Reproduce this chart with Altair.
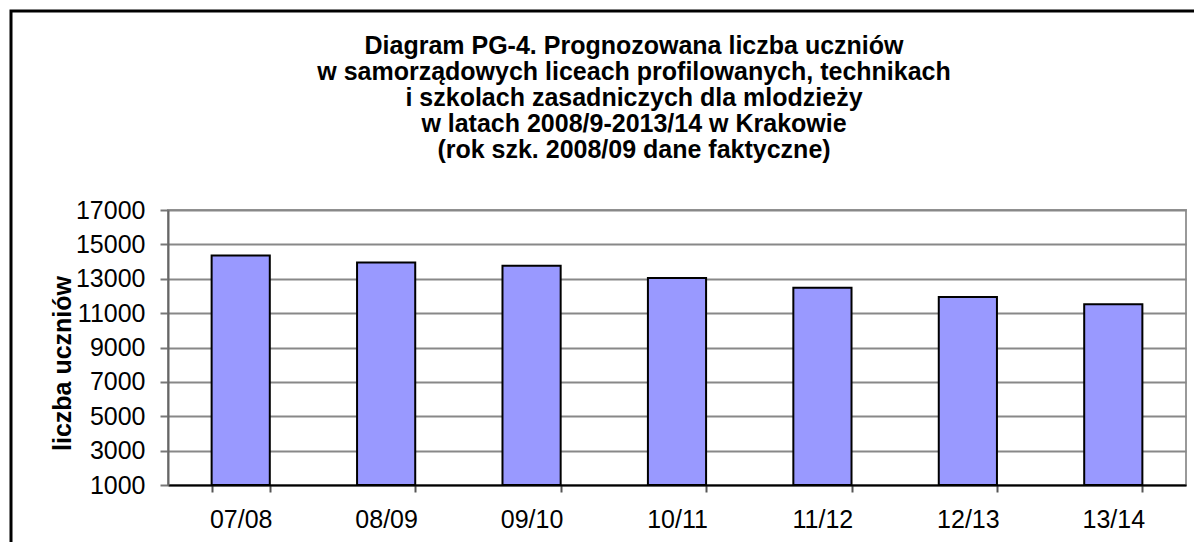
import altair as alt
import pandas as pd

# --- data ---
years = ["07/08", "08/09", "09/10", "10/11", "11/12", "12/13", "13/14"]
students = [14350, 13950, 13750, 13050, 12470, 11940, 11510]
y_ticks = [1000, 3000, 5000, 7000, 9000, 11000, 13000, 15000, 17000]
title_lines = [
    "Diagram PG-4. Prognozowana liczba uczniów",
    "w samorządowych liceach profilowanych, technikach",
    "i szkolach zasadniczych dla mlodzieży",
    "w latach 2008/9-2013/14 w Krakowie",
    "(rok szk. 2008/09  dane faktyczne)",
]
y_title = "liczba uczniów"

df = pd.DataFrame({"rok": years, "uczniowie": students})

FONT = "Liberation Sans"
W, H = 1018, 275

bars = alt.Chart(df).mark_bar(
    color="#9999ff", stroke="black", strokeWidth=2
).encode(
    x=alt.X(
        "rok:N",
        sort=years,
        scale=alt.Scale(paddingInner=0.6, paddingOuter=0.3),
        axis=alt.Axis(
            title=None,
            labelAngle=0,
            labelFont=FONT,
            labelFontSize=25,
            labelColor="black",
            labelPadding=15,
            tickBand="extent",
            tickSize=7,
            tickWidth=2,
            tickColor="#555555",
            domainColor="black",
            domainWidth=2,
            grid=False,
        ),
    ),
    y=alt.Y(
        "uczniowie:Q",
        scale=alt.Scale(domain=[1000, 17000], nice=False, zero=False),
        axis=alt.Axis(
            values=y_ticks,
            format="d",
            title=y_title,
            titleFont=FONT,
            titleFontSize=25,
            titleFontWeight="bold",
            titleColor="black",
            titleAngle=270,
            titleX=-106,
            titleY=153,
            titleAlign="center",
            titleBaseline="middle",
            labelFont=FONT,
            labelFontSize=25,
            labelColor="black",
            labelPadding=15,
            tickSize=8,
            tickWidth=2,
            tickColor="#777777",
            domainColor="#666666",
            domainWidth=2,
            gridColor="#888888",
            gridWidth=2,
        ),
    ),
    y2=alt.datum(1000),
)

frame = alt.Chart(pd.DataFrame({"k": [0]})).mark_rect(
    fillOpacity=0, stroke="black", strokeWidth=3
).encode(
    x=alt.value(-157), x2=alt.value(1200),
    y=alt.value(-199), y2=alt.value(600),
)

chart = alt.layer(bars, frame).properties(
    width=W,
    height=H,
    autosize=alt.AutoSizeParams(type="none"),
    padding={"left": 160, "top": 202, "right": 8, "bottom": 57},
    title=alt.TitleParams(
        text=title_lines,
        font=FONT,
        fontSize=25,
        fontWeight="bold",
        color="black",
        lineHeight=26,
        anchor="middle",
        frame="group",
        baseline="top",
        dx=-43,
        offset=-153,
    ),
    background="white",
).configure_view(stroke="#999999", strokeWidth=2)

chart.save("out.html", embed_options={"renderer": "svg", "actions": False})
